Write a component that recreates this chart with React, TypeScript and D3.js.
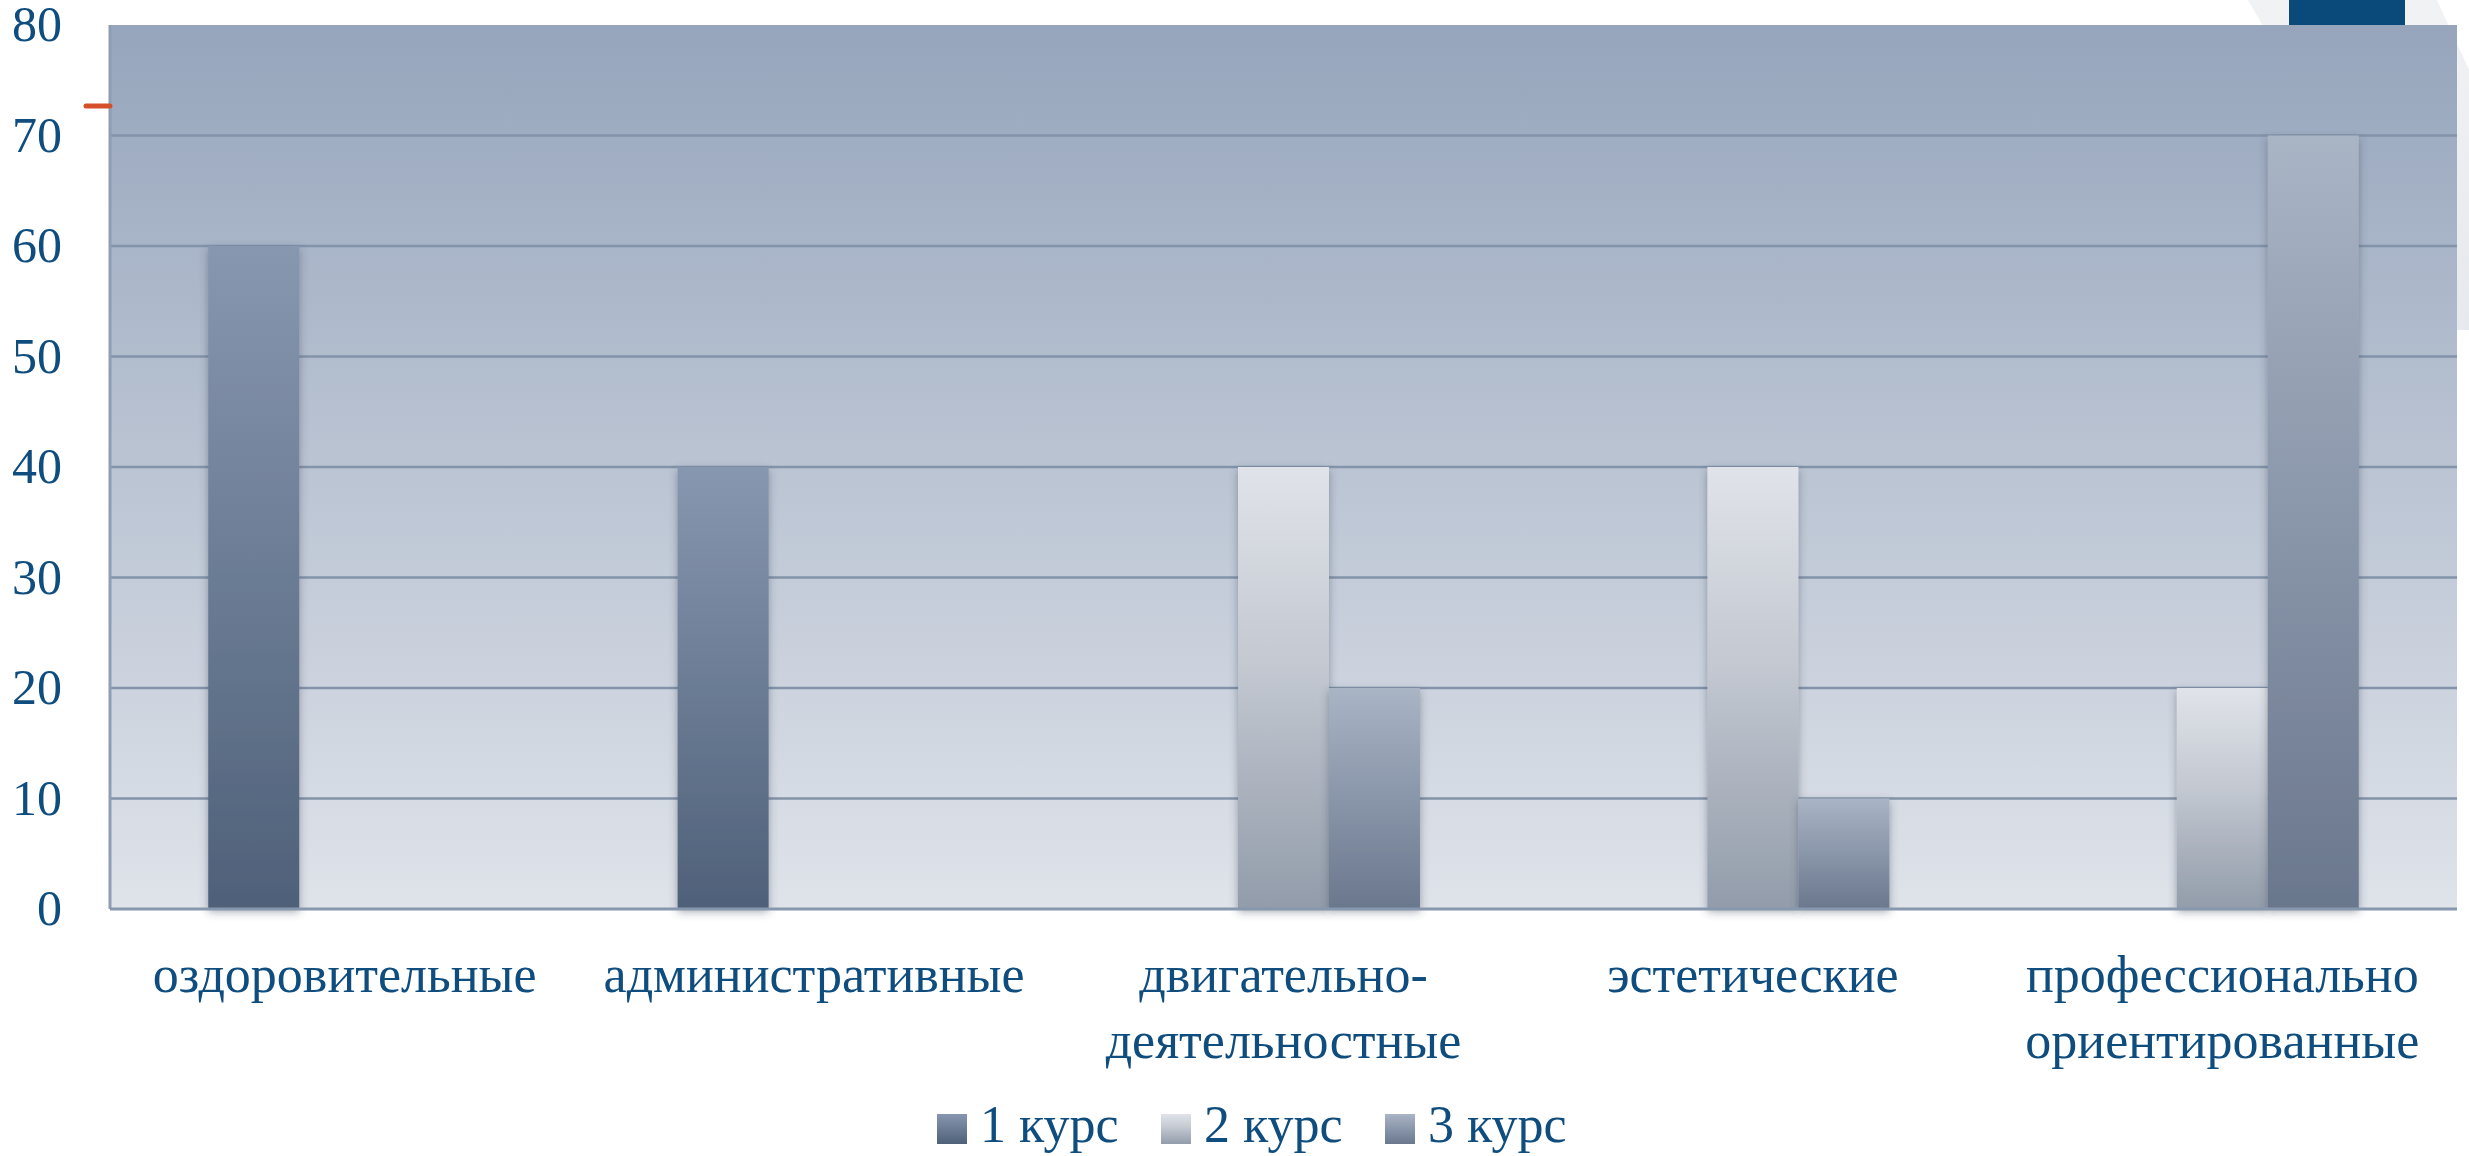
import React from "react";
import * as d3 from "d3";

const categories = [
  ["оздоровительные"],
  ["административные"],
  ["двигательно-", "деятельностные"],
  ["эстетические"],
  ["профессионально", "ориентированные"],
];
const seriesNames = ["1 курс", "2 курс", "3 курс"];
const course1 = [60, 40, 0, 0, 0];
const course2 = [0, 0, 40, 40, 20];
const course3 = [0, 0, 20, 10, 70];
const yTicks = [0, 10, 20, 30, 40, 50, 60, 70, 80];

const W = 2469;
const H = 1156;
const margin = { top: 25, right: 12, bottom: 247, left: 110 };
const textColor = "#0f4d7f";
const font = "'Liberation Serif', 'Times New Roman', serif";

export default function App() {
  const values = [course1, course2, course3];
  const x0 = d3
    .scaleBand<number>()
    .domain(d3.range(categories.length))
    .range([margin.left, W - margin.right]);
  const x1 = d3
    .scaleBand<number>()
    .domain(d3.range(seriesNames.length))
    .range([0, x0.bandwidth()])
    .paddingInner(0)
    .paddingOuter(1.08);
  const y = d3
    .scaleLinear()
    .domain([0, 80])
    .range([H - margin.bottom, margin.top]);

  const plotL = margin.left;
  const plotR = W - margin.right;

  return (
    <svg
      width={W}
      height={H}
      style={{ position: "absolute", left: 0, top: 0, display: "block", background: "#fff" }}
    >
      <defs>
        <linearGradient id="bg" x1="0" y1="0" x2="0" y2="1">
          <stop offset="0%" stopColor="#96a5bc" />
          <stop offset="100%" stopColor="#dfe3ea" />
        </linearGradient>
        <linearGradient id="g0" x1="0" y1="0" x2="0" y2="1">
          <stop offset="0%" stopColor="#8797af" />
          <stop offset="100%" stopColor="#4f6079" />
        </linearGradient>
        <linearGradient id="g1" x1="0" y1="0" x2="0" y2="1">
          <stop offset="0%" stopColor="#e0e3e9" />
          <stop offset="45%" stopColor="#c3c8d1" />
          <stop offset="100%" stopColor="#929caa" />
        </linearGradient>
        <linearGradient id="g2" x1="0" y1="0" x2="0" y2="1">
          <stop offset="0%" stopColor="#a9b4c5" />
          <stop offset="100%" stopColor="#6a778d" />
        </linearGradient>
        <linearGradient id="deco" x1="0" y1="0" x2="0" y2="1">
          <stop offset="0%" stopColor="#f1f2f4" />
          <stop offset="100%" stopColor="#e6e9ed" />
        </linearGradient>
        <filter id="shadow" x="-30%" y="-10%" width="160%" height="120%">
          <feDropShadow dx="0" dy="3" stdDeviation="4" floodColor="#3a4456" floodOpacity="0.45" />
        </filter>
      </defs>

      {/* slide decoration behind the chart */}
      <polygon
        points={`2248,0 2437,0 2469,70 2469,330 2440,330`}
        fill="url(#deco)"
      />
      <rect x={2289} y={0} width={116} height={margin.top} fill="#0a4a7b" />

      {/* plot area */}
      <rect
        x={plotL}
        y={y(80)}
        width={plotR - plotL}
        height={y(0) - y(80)}
        fill="url(#bg)"
      />
      {yTicks
        .filter((t) => t > 0 && t < 80)
        .map((t) => (
          <line
            key={t}
            x1={plotL}
            x2={plotR}
            y1={y(t)}
            y2={y(t)}
            stroke="#8393a9"
            strokeWidth={2.5}
          />
        ))}
      <line x1={plotL} x2={plotL} y1={y(80)} y2={y(0)} stroke="#8e9db3" strokeWidth={3} />

      {/* bars */}
      {values.map((vals, s) =>
        vals.map((v, i) =>
          v > 0 ? (
            <rect
              key={`${s}-${i}`}
              x={(x0(i) ?? 0) + (x1(s) ?? 0)}
              y={y(v)}
              width={x1.bandwidth()}
              height={y(0) - y(v)}
              fill={`url(#g${s})`}
              filter="url(#shadow)"
            />
          ) : null
        )
      )}
      <line x1={plotL} x2={plotR} y1={y(0)} y2={y(0)} stroke="#8797ad" strokeWidth={3} />

      {/* red marker */}
      <line x1={86} x2={110} y1={106} y2={106} stroke="#d5502a" strokeWidth={5} strokeLinecap="round" />

      {/* y tick labels */}
      {yTicks.map((t) => (
        <text
          key={t}
          x={62}
          y={y(t) + 16}
          textAnchor="end"
          fontFamily={font}
          fontSize={50}
          fill={textColor}
        >
          {t}
        </text>
      ))}

      {/* category labels */}
      {categories.map((lines, i) => (
        <text
          key={i}
          x={(x0(i) ?? 0) + x0.bandwidth() / 2}
          y={992}
          textAnchor="middle"
          fontFamily={font}
          fontSize={52}
          fill={textColor}
        >
          {lines.map((l, j) => (
            <tspan key={j} x={(x0(i) ?? 0) + x0.bandwidth() / 2} dy={j === 0 ? 0 : 66}>
              {l}
            </tspan>
          ))}
        </text>
      ))}

      {/* legend */}
      {seriesNames.map((name, s) => {
        const lx = 937 + s * 224;
        return (
          <g key={name}>
            <rect x={lx} y={1114} width={30} height={30} fill={`url(#g${s})`} />
            <text
              x={lx + 43}
              y={1142}
              fontFamily={font}
              fontSize={52}
              fill={textColor}
            >
              {name}
            </text>
          </g>
        );
      })}
    </svg>
  );
}
